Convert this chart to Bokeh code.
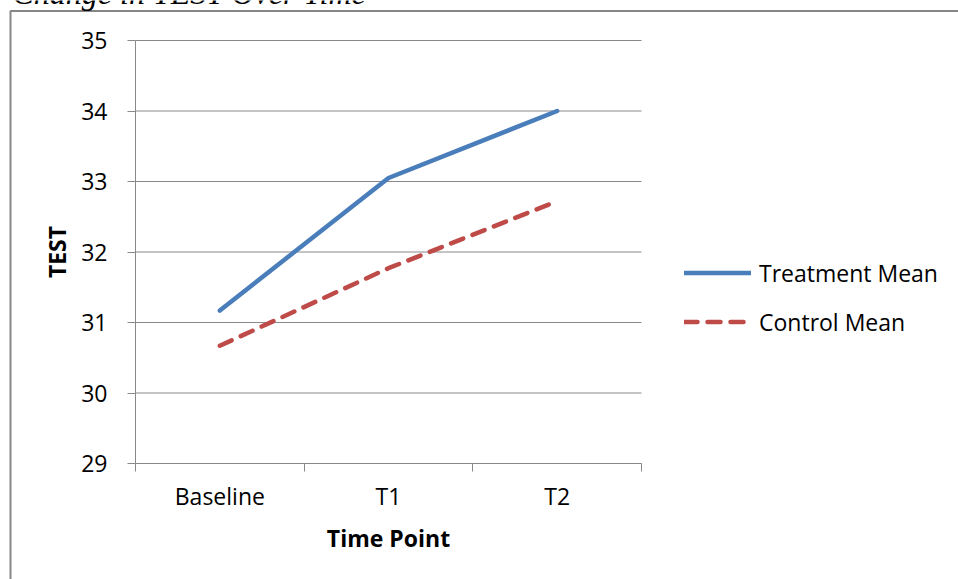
from bokeh.plotting import figure
from bokeh.models import (Range1d, FixedTicker, Legend, LegendItem, Label,
                          BoxAnnotation, GlobalInlineStyleSheet)
from bokeh.embed import file_html
from bokeh.resources import INLINE

# ---- data ----
categories = ["Baseline", "T1", "T2"]
treatment_mean = [31.17, 33.05, 34.00]
control_mean = [30.67, 31.77, 32.72]
y_ticks = [29, 30, 31, 32, 33, 34, 35]
series_names = ["Treatment Mean", "Control Mean"]
title_text = "Change in TEST Over Time"
x_label = "Time Point"
y_label = "TEST"

# ---- styles / layout (pixels of the page) ----
FONT = "Open Sans"
GRAY = "#898989"
BORDER_GRAY = "#868686"
BLUE = "#4A7EBB"
RED = "#BE4B48"
W, H = 958, 579
PLOT_LEFT, PLOT_RIGHT = 135, 641     # plot area, left/right
PLOT_TOP, PLOT_BOTTOM = 40, 463      # plot area, top/bottom

n = len(categories)
x_pos = [i + 0.5 for i in range(n)]
boundaries = list(range(n + 1))

# The frame covers the whole canvas; axes are pinned at the plot-area edges.
xu = n / (PLOT_RIGHT - PLOT_LEFT)
yu = (y_ticks[-1] - y_ticks[0]) / (PLOT_BOTTOM - PLOT_TOP)
x_range = Range1d(boundaries[0] - PLOT_LEFT * xu, boundaries[-1] + (W - PLOT_RIGHT) * xu)
y_range = Range1d(y_ticks[0] - (H - PLOT_BOTTOM) * yu, y_ticks[-1] + PLOT_TOP * yu)

p = figure(width=W, height=H, output_backend="svg", toolbar_location=None,
           x_range=x_range, y_range=y_range, min_border=0,
           min_border_left=0, min_border_right=0, min_border_top=0, min_border_bottom=0,
           outline_line_color=None)
p.stylesheets = [GlobalInlineStyleSheet(css="html, body {margin:0 !important; padding:0; overflow:hidden;}")]

# horizontal grid lines across the category span
p.xgrid.visible = False
p.ygrid.visible = False
p.segment(x0=[boundaries[0]] * len(y_ticks), x1=[boundaries[-1]] * len(y_ticks),
          y0=y_ticks, y1=y_ticks, line_color=GRAY, line_width=1, level="underlay")

r1 = p.line(x_pos, treatment_mean, line_color=BLUE, line_width=4.5,
            line_cap="round", line_join="round")
r2 = p.line(x_pos, control_mean, line_color=RED, line_width=4.5,
            line_dash="13 10", line_cap="round", line_join="round")

# y axis
p.yaxis.fixed_location = boundaries[0]
p.yaxis.bounds = (y_ticks[0], y_ticks[-1])
p.yaxis.ticker = FixedTicker(ticks=y_ticks)
p.yaxis.axis_line_color = GRAY
p.yaxis.major_tick_line_color = GRAY
p.yaxis.major_tick_in = 0
p.yaxis.major_tick_out = 8
p.yaxis.minor_tick_line_color = None
p.yaxis.major_label_standoff = 20
p.yaxis.major_label_text_font = FONT
p.yaxis.major_label_text_font_size = "23px"
p.yaxis.major_label_text_color = "black"
p.yaxis.axis_label = y_label
p.yaxis.axis_label_text_font = FONT
p.yaxis.axis_label_text_font_style = "bold"
p.yaxis.axis_label_text_font_size = "23px"
p.yaxis.axis_label_text_color = "black"
p.yaxis.axis_label_standoff = 5

# x axis
p.xaxis.fixed_location = y_ticks[0]
p.xaxis.bounds = (boundaries[0], boundaries[-1])
p.xaxis.ticker = FixedTicker(ticks=x_pos, minor_ticks=boundaries)
p.xaxis.major_label_overrides = dict(zip(x_pos, categories))
p.xaxis.axis_line_color = GRAY
p.xaxis.major_tick_line_color = None
p.xaxis.major_tick_in = 0
p.xaxis.major_tick_out = 0
p.xaxis.minor_tick_line_color = GRAY
p.xaxis.minor_tick_in = 0
p.xaxis.minor_tick_out = 8
p.xaxis.major_label_standoff = 8
p.xaxis.major_label_text_font = FONT
p.xaxis.major_label_text_font_size = "23px"
p.xaxis.major_label_text_color = "black"
p.xaxis.axis_label = x_label
p.xaxis.axis_label_text_font = FONT
p.xaxis.axis_label_text_font_style = "bold"
p.xaxis.axis_label_text_font_size = "23px"
p.xaxis.axis_label_text_color = "black"
p.xaxis.axis_label_standoff = 7

# legend, right of the plot area
legend = Legend(items=[LegendItem(label=series_names[0], renderers=[r1]),
                       LegendItem(label=series_names[1], renderers=[r2])],
                location=(684, H - 338), glyph_width=67, glyph_height=33,
                label_height=33, spacing=16, padding=0, margin=0,
                border_line_color=None, background_fill_alpha=0,
                label_standoff=8, label_text_font=FONT,
                label_text_font_size="23px", label_text_color="black")
p.add_layout(legend)

# outer chart border and the title, cut off at the top of the page as in the source
border = BoxAnnotation(left=10, right=W + 100, top=H - 10.5, bottom=-100,
                       left_units="screen", right_units="screen",
                       top_units="screen", bottom_units="screen",
                       fill_alpha=0, line_color=BORDER_GRAY, line_alpha=1.0, line_width=2)
p.add_layout(border)
title = Label(x=12, y=H + 8, x_units="screen", y_units="screen", text=title_text,
              text_font="Liberation Serif", text_font_style="italic",
              text_font_size="32px", text_baseline="alphabetic", text_color="black")
p.add_layout(title)

open("out.html", "w").write(file_html(p, INLINE))
